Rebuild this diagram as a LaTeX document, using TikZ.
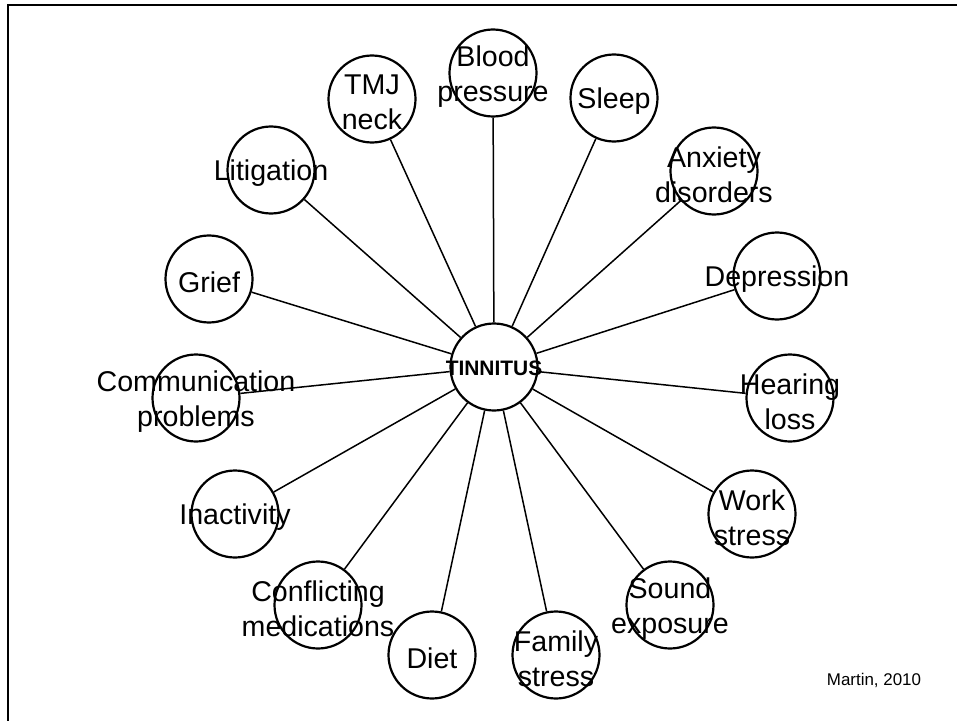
\documentclass[tikz,border=0pt]{standalone}
\usepackage{fontspec}
\setmainfont{Liberation Sans}
\begin{document}
\begin{tikzpicture}[x=1bp,y=-1bp,
  bubble/.style={circle,draw,line width=2.2bp,minimum size=87bp,inner sep=0pt},
  spoke/.style={line width=1.5bp},
  lbl/.style={align=center,inner sep=0pt,yshift=-3.5bp,font=\fontsize{28.7}{35}\selectfont},
  hublbl/.style={inner sep=0pt,yshift=-1.5bp,font=\fontsize{21}{24}\selectfont\bfseries},
  note/.style={inner sep=0pt,font=\fontsize{17}{20}\selectfont}]
\useasboundingbox (0,0) rectangle (957,721);
% frame along the top and left edges
\coordinate (fr-tr) at (957,5);
\coordinate (fr-tl) at (8,5);
\coordinate (fr-bl) at (8,721);
\draw[line width=2.5bp] (fr-tr) -- (fr-tl) -- (fr-bl);
% central hub
\node[bubble] (tin) at (494,367) {};
\node[hublbl] (tin-t) at (tin) {TINNITUS};
% surrounding factors
\foreach \n/\x/\y/\t in {
  blood/493/73/{Blood\\pressure},
  tmj/372/99/{TMJ\\neck},
  sleep/614/98/{Sleep},
  anx/714/171/{Anxiety\\disorders},
  dep/777/276/{Depression},
  hear/790/398/{Hearing\\loss},
  work/752/514/{Work\\stress},
  sound/670/605/{Sound\\exposure},
  family/556/655/{Family\\stress},
  diet/432/655/{Diet},
  conf/318/605/{Conflicting\\medications},
  inact/235/514/{Inactivity},
  comm/196/398/{Communication\\problems},
  grief/209/279/{Grief},
  litig/271/170/{Litigation}} {
  \node[bubble] (\n) at (\x,\y) {};
  \node[lbl] (\n-t) at (\n) {\t};
  \draw[spoke] (tin) -- (\n);
}
\node[note] (src) at (874,680) {Martin, 2010};
\end{tikzpicture}
\end{document}
